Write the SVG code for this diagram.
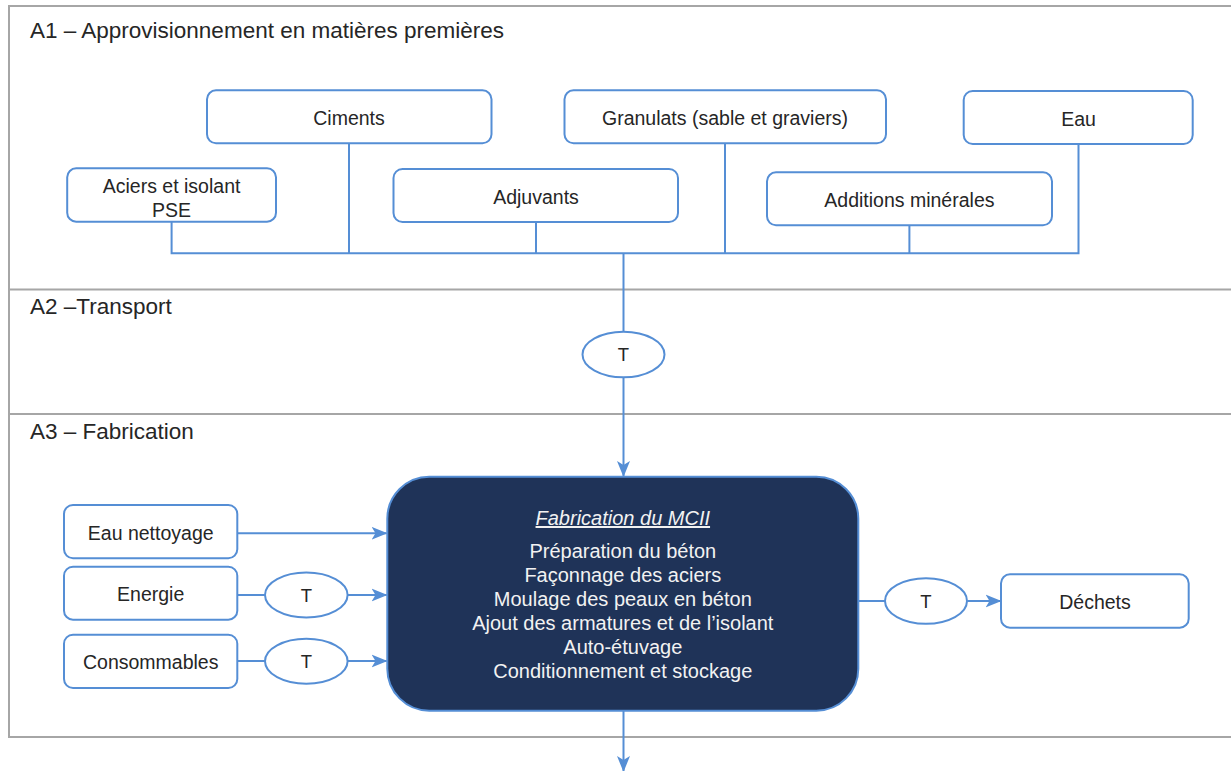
<svg xmlns="http://www.w3.org/2000/svg" width="1231" height="771" viewBox="0 0 1231 771">
<style>
.frame{fill:none;stroke:#A6A6A6;stroke-width:2}
.box{fill:#FFFFFF;stroke:#558ED5;stroke-width:2}
.ell{fill:#FFFFFF;stroke:#558ED5;stroke-width:2}
.main{fill:#1F3358;stroke:#558ED5;stroke-width:2}
.con{fill:none;stroke:#558ED5;stroke-width:2}
.sec{font-family:"Liberation Sans",Arial,sans-serif;font-size:22.5px;fill:#262626}
.lbl{font-family:"Liberation Sans",Arial,sans-serif;font-size:19.5px;fill:#262626;text-anchor:middle}
.t{font-family:"Liberation Sans",Arial,sans-serif;font-size:18.5px;fill:#262626;text-anchor:middle}
.mt{font-family:"Liberation Sans",Arial,sans-serif;font-size:20px;fill:#F2F2F2;text-anchor:middle}
</style>
<defs>
<marker id="arr" viewBox="0 0 16 14" refX="15" refY="7" markerWidth="16" markerHeight="14" markerUnits="userSpaceOnUse" orient="auto">
<path d="M0,0.5 L16,7 L0,13.5 L4,7 Z" fill="#558ED5"/>
</marker>
</defs>
<rect width="1231" height="771" fill="#FFFFFF"/>
<g id="frame">
<rect class="frame" x="9" y="6" width="1240" height="731"/>
<line class="frame" x1="9" y1="289.5" x2="1231" y2="289.5"/>
<line class="frame" x1="9" y1="414" x2="1231" y2="414"/>
<text class="sec" x="30" y="37.5">A1 – Approvisionnement en matières premières</text>
<text class="sec" x="30" y="313.5">A2 –Transport</text>
<text class="sec" x="30" y="438.5">A3 – Fabrication</text>
</g>
<g id="connectors">
<polyline class="con" points="171.6,221.7 171.6,253.3 1078.5,253.3 1078.5,144"/>
<line class="con" x1="349" y1="143.3" x2="349" y2="253.3"/>
<line class="con" x1="536" y1="222" x2="536" y2="253.3"/>
<line class="con" x1="725" y1="143.3" x2="725" y2="253.3"/>
<line class="con" x1="909.4" y1="225.3" x2="909.4" y2="253.3"/>
<line class="con" x1="623.5" y1="253.3" x2="623.5" y2="331.7"/>
<line class="con" x1="623.5" y1="377.3" x2="623.5" y2="476" marker-end="url(#arr)"/>
<line class="con" x1="237.3" y1="533.3" x2="386.5" y2="533.3" marker-end="url(#arr)"/>
<line class="con" x1="237.3" y1="595" x2="265" y2="595"/>
<line class="con" x1="347.7" y1="595" x2="386.5" y2="595" marker-end="url(#arr)"/>
<line class="con" x1="237.3" y1="661" x2="265" y2="661"/>
<line class="con" x1="347.7" y1="661" x2="386.5" y2="661" marker-end="url(#arr)"/>
<line class="con" x1="858.3" y1="601" x2="885" y2="601"/>
<line class="con" x1="967.3" y1="601" x2="1000.5" y2="601" marker-end="url(#arr)"/>
<line class="con" x1="623.5" y1="710.7" x2="623.5" y2="771" marker-end="url(#arr)"/>
</g>
<g id="n-ciments"><rect class="box" x="207" y="90.3" width="284.5" height="53" rx="9"/><text class="lbl" x="349" y="125">Ciments</text></g>
<g id="n-granulats"><rect class="box" x="564.5" y="90.3" width="321.5" height="53" rx="9"/><text class="lbl" x="725" y="125">Granulats (sable et graviers)</text></g>
<g id="n-eau"><rect class="box" x="963.7" y="91" width="229" height="53" rx="9"/><text class="lbl" x="1078.5" y="126">Eau</text></g>
<g id="n-aciers"><rect class="box" x="67.2" y="168.3" width="208.8" height="53.4" rx="9"/><text class="lbl" x="171.6" y="192.7">Aciers et isolant</text><text class="lbl" x="171.6" y="216.5">PSE</text></g>
<g id="n-adjuvants"><rect class="box" x="393.5" y="169" width="284.5" height="53" rx="9"/><text class="lbl" x="536" y="204">Adjuvants</text></g>
<g id="n-additions"><rect class="box" x="767" y="172.3" width="285" height="53" rx="9"/><text class="lbl" x="909.4" y="207.3">Additions minérales</text></g>
<g id="n-t1"><ellipse class="ell" cx="623.5" cy="354.5" rx="41" ry="22.8"/><text class="t" x="623.5" y="361">T</text></g>
<g id="n-eaunet"><rect class="box" x="64" y="505" width="173.3" height="53.3" rx="9"/><text class="lbl" x="150.7" y="540">Eau nettoyage</text></g>
<g id="n-energie"><rect class="box" x="64" y="566.7" width="173.3" height="53" rx="9"/><text class="lbl" x="150.7" y="601">Energie</text></g>
<g id="n-conso"><rect class="box" x="64" y="634.7" width="173.3" height="53.3" rx="9"/><text class="lbl" x="150.7" y="668.5">Consommables</text></g>
<g id="n-t2"><ellipse class="ell" cx="306.3" cy="595" rx="41.3" ry="22.5"/><text class="t" x="306.3" y="601.5">T</text></g>
<g id="n-t3"><ellipse class="ell" cx="306.3" cy="661.3" rx="41.3" ry="22.5"/><text class="t" x="306.3" y="668">T</text></g>
<g id="n-main"><rect class="main" x="387.3" y="476.7" width="471" height="234" rx="42"/>
<text class="mt" x="622.8" y="525" font-style="italic" text-decoration="underline">Fabrication du MCII</text>
<text class="mt" x="622.8" y="557.7">Préparation du béton</text>
<text class="mt" x="622.8" y="581.7">Façonnage des aciers</text>
<text class="mt" x="622.8" y="605.8">Moulage des peaux en béton</text>
<text class="mt" x="622.8" y="630">Ajout des armatures et de l’isolant</text>
<text class="mt" x="622.8" y="654.2">Auto-étuvage</text>
<text class="mt" x="622.8" y="678.3">Conditionnement et stockage</text>
</g>
<g id="n-t4"><ellipse class="ell" cx="926" cy="601" rx="41" ry="22.8"/><text class="t" x="926" y="607.5">T</text></g>
<g id="n-dechets"><rect class="box" x="1001" y="574.3" width="187.7" height="53.4" rx="9"/><text class="lbl" x="1095" y="609">Déchets</text></g>
</svg>
